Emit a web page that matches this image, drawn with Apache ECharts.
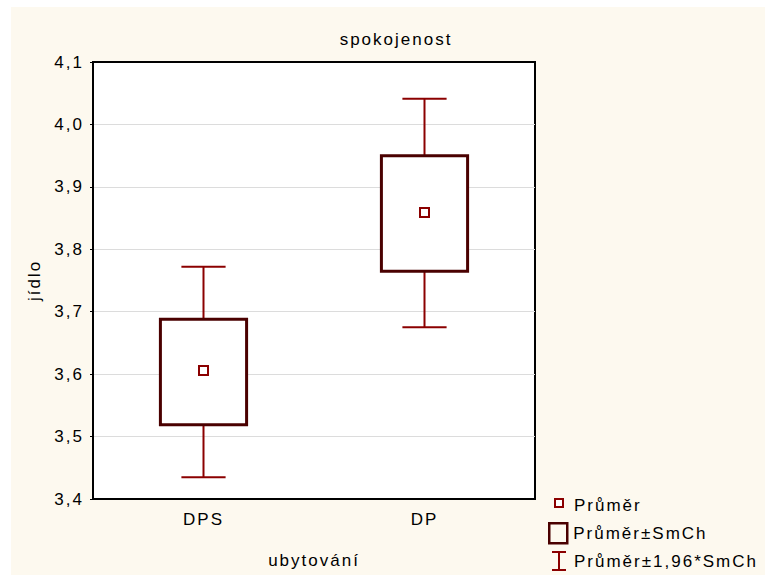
<!DOCTYPE html>
<html>
<head>
<meta charset="utf-8">
<script src="https://cdn.jsdelivr.net/npm/echarts@6/dist/echarts.min.js"></script>
<style>
html,body{margin:0;padding:0;background:#ffffff;}
#wrap{position:relative;width:765px;height:575px;background:#ffffff;}
#panel{position:absolute;left:11px;top:7px;right:0;bottom:0;background:#fdf9ef;}
#chart{position:absolute;left:0;top:0;width:765px;height:575px;letter-spacing:2px;}
</style>
</head>
<body>
<div id="wrap"><div id="panel"></div><div id="chart"></div></div>
<script>
const categories = ['DPS', 'DP'];
const means = [3.606, 3.859];
const seLow = [3.519, 3.765];
const seHigh = [3.688, 3.950];
const ciLow = [3.435, 3.675];
const ciHigh = [3.772, 4.041];
const yTicks = [3.4, 3.5, 3.6, 3.7, 3.8, 3.9, 4.0, 4.1];

const FONT = 'Liberation Sans, Arial, sans-serif';
const FS = 17;
const fmt = v => v.toFixed(1).replace('.', ',');

const chart = echarts.init(document.getElementById('chart'), null, {renderer: 'svg'});

const boxData = categories.map((c, i) => [i, seLow[i], seHigh[i]]);
const whiskerData = categories.map((c, i) => [i, ciLow[i], ciHigh[i]]);
const meanData = categories.map((c, i) => [i, means[i]]);

const legendItems = [
  {name: 'Průměr', icon: 'path://M0,0 M20,20 M6,4 L14,4 L14,12 L6,12 Z',
   itemStyle: {color: '#ffffff', borderColor: '#8b0000', borderWidth: 2}},
  {name: 'Průměr±SmCh', icon: 'path://M0,0 L18,0 L18,20 L0,20 Z',
   itemStyle: {color: 'transparent', borderColor: '#4a0000', borderWidth: 2.5}},
  {name: 'Průměr±1,96*SmCh', icon: 'path://M0,0 M20,20 M3,1 L17,1 M10,1 L10,19 M3,19 L17,19',
   itemStyle: {color: 'transparent', borderColor: '#8b0000', borderWidth: 2}}
];
const legendTops = [494, 522, 550];

const option = {
  backgroundColor: 'transparent',
  animation: false,
  textStyle: {fontFamily: FONT},
  title: {
    text: 'spokojenost',
    left: 391, top: 26, textAlign: 'center',
    textStyle: {fontFamily: FONT, fontSize: FS, fontWeight: 'normal', color: '#000'}
  },
  grid: {
    left: 93, top: 62, right: 230, bottom: 76,
    show: true, backgroundColor: '#ffffff', borderColor: '#000', borderWidth: 2
  },
  legend: legendItems.map((it, i) => ({
    orient: 'vertical', left: 548, top: legendTops[i], padding: 0,
    itemWidth: 20, itemHeight: 20, itemGap: 0,
    selectedMode: false,
    textStyle: {fontFamily: FONT, fontSize: FS, color: '#000'},
    data: [it]
  })),
  xAxis: [{
    type: 'category', data: categories, position: 'bottom',
    name: 'ubytování', nameLocation: 'middle', nameGap: 53,
    nameTextStyle: {fontFamily: FONT, fontSize: FS, color: '#000'},
    axisLine: {lineStyle: {color: '#000', width: 2}},
    axisTick: {inside: true, alignWithLabel: true, length: 4, lineStyle: {color: '#000', width: 1}},
    axisLabel: {fontFamily: FONT, fontSize: FS, color: '#000', margin: 12},
    splitLine: {show: false}
  }, {
    type: 'category', data: categories, position: 'top',
    axisLine: {lineStyle: {color: '#000', width: 2}},
    axisTick: {inside: true, alignWithLabel: true, length: 4, lineStyle: {color: '#000', width: 1}},
    axisLabel: {show: false},
    splitLine: {show: false}
  }],
  yAxis: {
    type: 'value', min: 3.4, max: 4.1, interval: 0.1,
    name: 'jídlo', nameLocation: 'middle', nameGap: 50, nameRotate: 90,
    nameTextStyle: {fontFamily: FONT, fontSize: FS, color: '#000'},
    axisLine: {show: true, lineStyle: {color: '#000', width: 2}},
    axisTick: {show: true, length: 3, lineStyle: {color: '#000', width: 1}},
    axisLabel: {fontFamily: FONT, fontSize: FS, color: '#000', margin: 9,
      formatter: v => fmt(v)},
    splitLine: {show: true, lineStyle: {color: '#dcdcdc', width: 1}}
  },
  series: [
    {
      name: 'Průměr±1,96*SmCh', type: 'custom', z: 2,
      itemStyle: {color: '#8b0000'},
      encode: {x: 0, y: [1, 2]},
      data: whiskerData,
      renderItem: function (params, api) {
        const lo = api.coord([api.value(0), api.value(1)]);
        const hi = api.coord([api.value(0), api.value(2)]);
        const cap = api.size([1, 0])[0] * 0.2;
        const st = {stroke: '#8b0000', lineWidth: 2, fill: null};
        return {type: 'group', children: [
          {type: 'line', shape: {x1: lo[0], y1: lo[1], x2: hi[0], y2: hi[1]}, style: st},
          {type: 'line', shape: {x1: lo[0] - cap / 2, y1: lo[1], x2: lo[0] + cap / 2, y2: lo[1]}, style: st},
          {type: 'line', shape: {x1: hi[0] - cap / 2, y1: hi[1], x2: hi[0] + cap / 2, y2: hi[1]}, style: st}
        ]};
      }
    },
    {
      name: 'Průměr±SmCh', type: 'custom', z: 3,
      itemStyle: {color: '#4a0000'},
      encode: {x: 0, y: [1, 2]},
      data: boxData,
      renderItem: function (params, api) {
        const lo = api.coord([api.value(0), api.value(1)]);
        const hi = api.coord([api.value(0), api.value(2)]);
        const w = api.size([1, 0])[0] * 0.39;
        return {type: 'rect',
          shape: {x: lo[0] - w / 2, y: hi[1], width: w, height: lo[1] - hi[1]},
          style: {fill: '#ffffff', stroke: '#4a0000', lineWidth: 3}};
      }
    },
    {
      name: 'Průměr', type: 'scatter', z: 4,
      symbol: 'rect', symbolSize: 9,
      itemStyle: {color: '#ffffff', borderColor: '#8b0000', borderWidth: 2, opacity: 1},
      data: meanData
    }
  ]
};
chart.setOption(option);
</script>
</body>
</html>
